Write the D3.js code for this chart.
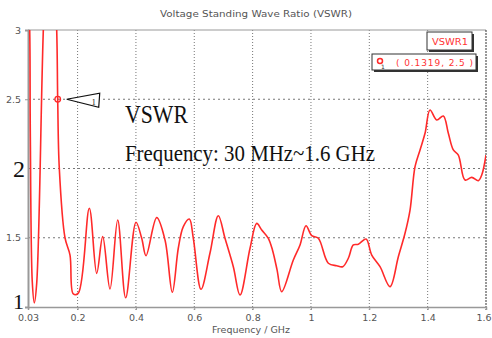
<!DOCTYPE html>
<html>
<head>
<meta charset="utf-8">
<script src="https://cdn.jsdelivr.net/npm/d3@7"></script>
<style>
  body { margin: 0; background: #fff; }
  svg { display: block; }
  .tick-label { font-family: "DejaVu Sans", Verdana, sans-serif; font-size: 9.5px; fill: #555; }
  .big-label { font-family: "Liberation Serif", "Times New Roman", serif; fill: #111; }
</style>
</head>
<body>
<svg id="chart" width="492" height="338"></svg>
<script>
const freqGHz = [0.03, 0.0358, 0.0379, 0.0447, 0.0516, 0.0598, 0.0825, 0.105, 0.1284, 0.1318, 0.1373,
  0.1568, 0.174, 0.1853, 0.2024, 0.2402, 0.2655, 0.2861, 0.3111, 0.3375, 0.3649, 0.4002, 0.4198,
  0.4345, 0.4712, 0.4997, 0.5247, 0.5453, 0.5624, 0.583, 0.5967, 0.6231, 0.6539, 0.6824, 0.7053,
  0.7338, 0.7568, 0.7911, 0.814, 0.8312, 0.8538, 0.8682, 0.8836, 0.8997, 0.9395, 0.9625, 0.983,
  1.0026, 1.0252, 1.0595, 1.0883, 1.1089, 1.1281, 1.1452, 1.1623, 1.1887, 1.2083, 1.2367, 1.271,
  1.2995, 1.3224, 1.3396, 1.3567, 1.3739, 1.391, 1.4081, 1.4311, 1.4537, 1.4709, 1.488, 1.5052,
  1.528, 1.5511, 1.5737, 1.5853, 1.6];
const vswr = [3.3, 3.0, 2.26, 1.18, 1.03, 1.17, 3.0, 4.2, 3.0, 2.5, 2.0,
  1.5, 1.375, 1.094, 1.1, 1.713, 1.243, 1.508, 1.13, 1.628, 1.067, 1.612, 1.496,
  1.37, 1.645, 1.484, 1.106, 1.426, 1.58, 1.635, 1.496, 1.128, 1.39, 1.659, 1.496,
  1.291, 1.087, 1.424, 1.604, 1.556, 1.496, 1.41, 1.27, 1.11, 1.339, 1.448, 1.587,
  1.515, 1.496, 1.316, 1.298, 1.291, 1.352, 1.448, 1.453, 1.491, 1.375, 1.291, 1.147,
  1.363, 1.532, 1.7, 2.013, 2.134, 2.254, 2.422, 2.35, 2.379, 2.254, 2.134, 2.097,
  1.917, 1.936, 1.912, 1.953, 2.097];

const xTicks = [0.03, 0.2, 0.4, 0.6, 0.8, 1, 1.2, 1.4, 1.6];
const yTicks = [1, 1.5, 2, 2.5, 3];
const marker = { freq: 0.1319, value: 2.5, label: "( 0.1319, 2.5 )" };

const svg = d3.select("#chart");
const plotLeft = 28, plotRight = 486, plotTop = 30, plotBottom = 307;

const x = d3.scaleLinear().domain([0.03, 1.6]).range([plotLeft, plotRight]);
const y = d3.scaleLinear().domain([1, 3]).range([plotBottom, plotTop]);

svg.append("text")
  .attr("x", 160).attr("y", 17)
  .attr("font-family", "DejaVu Sans, Verdana, sans-serif")
  .attr("font-size", 9.5)
  .attr("textLength", 192).attr("lengthAdjust", "spacingAndGlyphs")
  .attr("fill", "#555")
  .text("Voltage Standing Wave Ratio (VSWR)");

// grid
svg.append("g").selectAll("line")
  .data(xTicks.slice(1, -1))
  .join("line")
  .attr("x1", (d) => x(d)).attr("x2", (d) => x(d))
  .attr("y1", plotTop).attr("y2", plotBottom + 3)
  .attr("stroke", "#777").attr("stroke-dasharray", "1,2");

svg.append("g").selectAll("line")
  .data(yTicks.slice(1, -1))
  .join("line")
  .attr("x1", plotLeft).attr("x2", plotRight)
  .attr("y1", (d) => y(d)).attr("y2", (d) => y(d))
  .attr("stroke", "#777").attr("stroke-dasharray", "2,3");

// frame
svg.append("line").attr("x1", plotLeft).attr("x2", plotRight).attr("y1", plotTop).attr("y2", plotTop)
  .attr("stroke", "#999");
svg.append("line").attr("x1", plotRight).attr("x2", plotRight).attr("y1", plotTop).attr("y2", plotBottom + 3)
  .attr("stroke", "#333").attr("stroke-dasharray", "2,1");

const xAxis = svg.append("g")
  .attr("transform", `translate(0,${plotBottom})`)
  .call(d3.axisBottom(x).tickValues(xTicks).tickSize(3).tickFormat((d) => d === 0.03 ? "0.03" : d3.format("~g")(d)));
xAxis.select(".domain").attr("stroke", "#999").attr("stroke-width", 1.5);
xAxis.selectAll(".tick line").attr("stroke", "#999");
xAxis.selectAll(".tick text").attr("class", "tick-label").attr("y", 6).attr("dy", "0.8em");
// last label sits against the right edge
xAxis.selectAll(".tick text").filter((d) => d === 1.6).attr("text-anchor", "end").attr("x", 5);

const yAxis = svg.append("g")
  .attr("transform", `translate(${plotLeft},0)`)
  .call(d3.axisLeft(y).tickValues([1.5, 2.5, 3]).tickSize(3).tickFormat(d3.format("~g")));
yAxis.select(".domain").attr("stroke", "#999").attr("stroke-width", 2);
yAxis.selectAll(".tick line").attr("stroke", "#999");
yAxis.selectAll(".tick text").attr("class", "tick-label").attr("x", -7);

// big serif labels for 2 and 1
svg.append("text").attr("class", "big-label")
  .attr("x", 13).attr("y", y(2) + 8).attr("font-size", 24).text("2");
svg.append("text").attr("class", "big-label")
  .attr("x", 13).attr("y", y(1) + 2).attr("font-size", 22).text("1");

svg.append("text")
  .attr("x", 251).attr("y", 333)
  .attr("text-anchor", "middle")
  .attr("font-family", "DejaVu Sans, Verdana, sans-serif")
  .attr("font-size", 9.5)
  .attr("fill", "#555")
  .text("Frequency / GHz");

// curve
svg.append("clipPath").attr("id", "plot-clip")
  .append("rect").attr("x", plotLeft).attr("y", plotTop)
  .attr("width", plotRight - plotLeft).attr("height", plotBottom - plotTop);

const points = freqGHz.map((f, i) => [f, vswr[i]]);
const line = d3.line()
  .x((d) => x(d[0]))
  .y((d) => y(d[1]))
  .curve(d3.curveCatmullRom.alpha(0.5));

svg.append("path")
  .datum(points)
  .attr("clip-path", "url(#plot-clip)")
  .attr("fill", "none")
  .attr("stroke", "#ff2a2a")
  .attr("stroke-width", 1.6)
  .attr("d", line);

// marker on curve
const mx = x(marker.freq), my = y(marker.value);
svg.append("circle").attr("cx", mx).attr("cy", my).attr("r", 2.8)
  .attr("fill", "none").attr("stroke", "#ff2a2a").attr("stroke-width", 1.3);
svg.append("path")
  .attr("d", `M${mx + 9},${my} L${mx + 42},${my - 6} L${mx + 41},${my + 8} Z`)
  .attr("fill", "#fff").attr("stroke", "#111").attr("stroke-width", 1.2);
svg.append("text").attr("x", mx + 34).attr("y", my + 6)
  .attr("font-family", "Liberation Serif, serif").attr("font-size", 8).attr("fill", "#111").text("1");

// annotation text
svg.append("text").attr("class", "big-label")
  .attr("x", 125).attr("y", 123).attr("font-size", 25)
  .attr("textLength", 63).attr("lengthAdjust", "spacingAndGlyphs")
  .text("VSWR");
svg.append("text").attr("class", "big-label")
  .attr("x", 125).attr("y", 161).attr("font-size", 23)
  .attr("textLength", 250).attr("lengthAdjust", "spacingAndGlyphs")
  .text("Frequency: 30 MHz~1.6 GHz");

// legend boxes
const legend = svg.append("g");
legend.append("rect").attr("x", 429).attr("y", 34).attr("width", 45).attr("height", 18).attr("fill", "#333");
legend.append("rect").attr("x", 427).attr("y", 32).attr("width", 45).attr("height", 18)
  .attr("fill", "#fff").attr("stroke", "#333");
legend.append("text").attr("x", 432).attr("y", 45)
  .attr("font-family", "DejaVu Sans, Verdana, sans-serif").attr("font-size", 9).attr("fill", "#ff3333")
  .attr("textLength", 36).attr("lengthAdjust", "spacingAndGlyphs")
  .text("VSWR1");

legend.append("rect").attr("x", 374).attr("y", 56).attr("width", 104).attr("height", 16).attr("fill", "#333");
legend.append("rect").attr("x", 372).attr("y", 54).attr("width", 104).attr("height", 16)
  .attr("fill", "#fff").attr("stroke", "#333");
legend.append("circle").attr("cx", 380).attr("cy", 61).attr("r", 2.5)
  .attr("fill", "none").attr("stroke", "#ff2a2a").attr("stroke-width", 1.5);
legend.append("text").attr("x", 381).attr("y", 69)
  .attr("font-family", "DejaVu Sans, sans-serif").attr("font-size", 6).attr("fill", "#333").text("1");
legend.append("text").attr("x", 396).attr("y", 65.5)
  .attr("font-family", "DejaVu Sans, Verdana, sans-serif").attr("font-size", 9).attr("fill", "#ff3333")
  .attr("textLength", 77).attr("lengthAdjust", "spacing")
  .text(marker.label);
</script>
</body>
</html>
